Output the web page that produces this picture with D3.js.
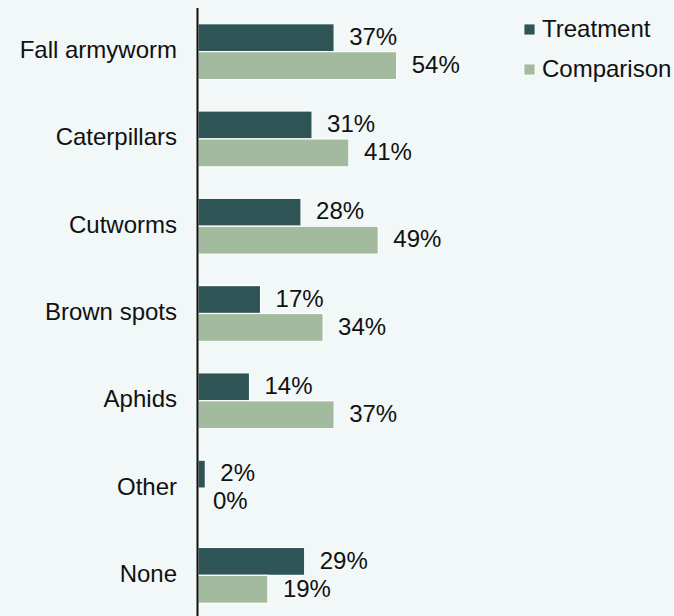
<!DOCTYPE html>
<html><head><meta charset="utf-8">
<script src="https://cdn.jsdelivr.net/npm/d3@7"></script>
<style>html,body{margin:0;padding:0;background:#f2f7f7;}svg{display:block;}</style>
</head><body>
<script>
const categories = ["Fall armyworm","Caterpillars","Cutworms","Brown spots","Aphids","Other","None"];
const treatment = [37,31,28,17,14,2,29];
const comparison = [54,41,49,34,37,0,19];
const seriesNames = ["Treatment","Comparison"];
const colors = ["#2e5456","#a2ba9d"];

const W=674,H=616;
const svg=d3.select("body").append("svg").attr("width",W).attr("height",H);
svg.append("rect").attr("width",W).attr("height",H).attr("fill","#f2f7f7");
const axisX=198;
const x=d3.scaleLinear().domain([0,60]).range([axisX,axisX+60*3.68]);
const y=d3.scaleBand().domain(categories).range([8,619]).paddingInner(0.36).paddingOuter(0.18);
const sub=d3.scaleBand().domain(seriesNames).range([0,y.bandwidth()]);
const font="Liberation Sans, Arial, sans-serif";
const fs=24;
const data=categories.map((c,i)=>({c,vals:[treatment[i],comparison[i]]}));
const g=svg.append("g");
data.forEach(d=>{
  d.vals.forEach((v,j)=>{
    const s=seriesNames[j];
    if(v>0){
    g.append("rect").attr("x",x(0)).attr("y",y(d.c)+sub(s))
      .attr("width",x(v)-x(0)).attr("height",sub.bandwidth())
      .attr("fill",colors[j]).attr("stroke","#ffffff").attr("stroke-width",1.2);
    }
    g.append("text").attr("x",x(v)+15).attr("y",y(d.c)+sub(s)+sub.bandwidth()/2)
      .attr("dy","0.3em").attr("font-family",font).attr("font-size",fs).attr("fill","#111")
      .text(v+"%");
  });
});
// category labels
svg.append("g").selectAll("text").data(categories).join("text")
  .attr("x",axisX-21).attr("y",d=>y(d)+y.bandwidth()/2)
  .attr("dy","0.27em").attr("text-anchor","end").attr("font-family",font).attr("font-size",fs).attr("fill","#111")
  .text(d=>d);
svg.append("line").attr("x1",axisX-0.5).attr("x2",axisX-0.5).attr("y1",8).attr("y2",H)
  .attr("stroke","#111").attr("stroke-width",2);
// legend
const leg=svg.append("g");
seriesNames.forEach((s,i)=>{
  const cy=29.5+i*40;
  leg.append("rect").attr("x",524).attr("y",cy-5.5).attr("width",11).attr("height",11).attr("fill",colors[i]).attr("stroke","#fff").attr("stroke-width",0.8);
  leg.append("text").attr("x",542).attr("y",cy).attr("dy","0.32em").attr("font-family",font).attr("font-size",fs).attr("fill","#111").text(s);
});
</script>
</body></html>
